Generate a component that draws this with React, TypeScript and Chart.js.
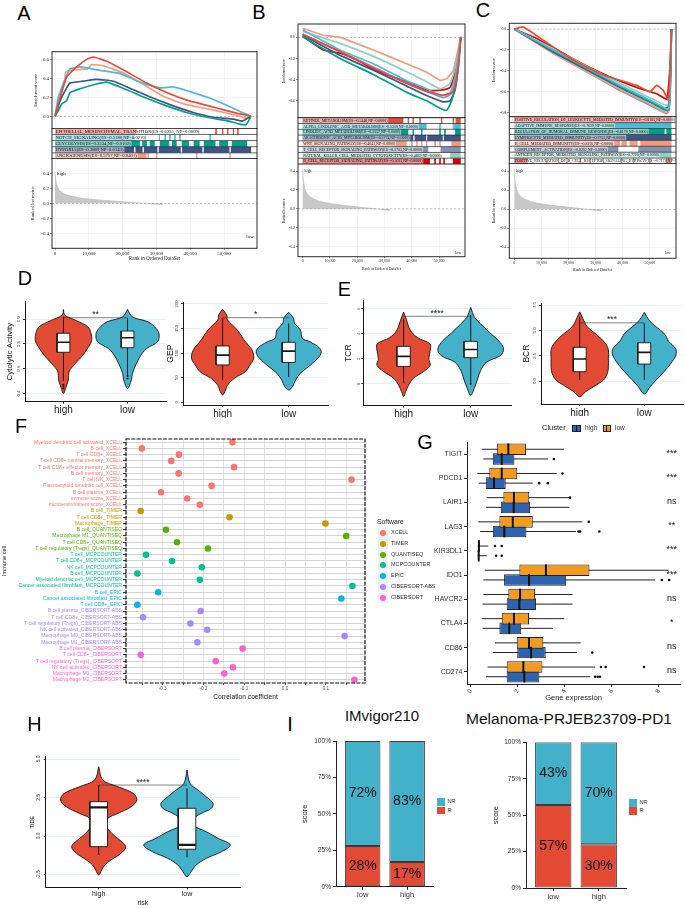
import React, { useEffect, useRef } from "react";
import { Chart, registerables } from "chart.js";

Chart.register(...registerables);

const SANS = "'Liberation Sans', Arial, Helvetica, sans-serif";
const SERIF = "'Liberation Serif', 'Times New Roman', serif";
Chart.defaults.font.family = SANS;
Chart.defaults.color = "#333";

type Pt = [number, number];
type M = [number, number, number, number];

const NPG = ["#E64B35", "#4DBBD5", "#00A087", "#3C5488", "#F39B7F", "#8491B4", "#91D1C2", "#DC0000"];
const RED = "#E24A33";
const TEAL = "#44B1CB";
const G_ORANGE = "#F39B20";
const G_BLUE = "#2D64AF";

// ---------------- GSEA data ----------------
const GSEA_X_TICKS = [0, 10000, 20000, 30000, 40000, 50000];
const RANK_METRIC: Pt[] = [[0, 0.42], [200, 0.32], [600, 0.24], [1200, 0.18], [2500, 0.13], [4500, 0.1], [7000, 0.075], [10000, 0.058], [14000, 0.042], [18000, 0.028], [22000, 0.015], [26000, 0.003], [29000, -0.008], [32000, -0.018]];

const A_EMT: Pt[] = [[0, 0], [1500, 0.2], [3450, 0.41], [6400, 0.52], [9400, 0.6], [11300, 0.625], [15300, 0.58], [21200, 0.47], [27100, 0.35], [33000, 0.25], [39000, 0.17], [44900, 0.115], [50800, 0.06], [54700, 0.025], [57000, 0.01], [58000, 0]];
const A_NOTCH: Pt[] = [[0, 0], [990, 0.2], [2960, 0.39], [4440, 0.5], [7400, 0.52], [13300, 0.485], [19200, 0.45], [25200, 0.36], [31100, 0.3], [35000, 0.31], [39900, 0.26], [45900, 0.19], [51800, 0.1], [54700, 0.05], [58000, 0]];
const A_GLYC: Pt[] = [[0, 0], [990, 0.06], [1970, 0.13], [3450, 0.165], [4440, 0.25], [7400, 0.29], [12300, 0.34], [15300, 0.36], [21200, 0.28], [27100, 0.19], [33000, 0.11], [38900, 0.04], [44900, -0.01], [50800, -0.045], [54300, -0.08], [56500, -0.09], [58000, 0]];
const A_HYP: Pt[] = [[0, 0], [1480, 0.16], [3450, 0.3], [4440, 0.35], [8380, 0.37], [12300, 0.39], [17300, 0.37], [23200, 0.28], [29100, 0.19], [35000, 0.11], [40900, 0.04], [46900, -0.01], [52800, -0.03], [55500, -0.05], [58000, 0]];
const A_ANG: Pt[] = [[0, 0], [1280, 0.16], [2760, 0.35], [3250, 0.47], [5710, 0.49], [9680, 0.5], [10850, 0.545], [14600, 0.53], [20500, 0.45], [26400, 0.33], [32400, 0.205], [38300, 0.128], [44200, 0.085], [50100, 0.04], [53600, 0.01], [56500, -0.02], [58000, 0]];
const A_ROW_LABELS = ["EPITHELIAL_MESENCHYMAL_TRANSITION(ES=0.6231, NP=0.0099)", "NOTCH_SIGNALING(ES=0.5180,NP=0.0270)", "GLYCOLYSIS(ES=0.3534,NP=0.0102)", "HYPOXIA(ES=0.3889,NP=0.0143)", "ANGIOGENESIS(ES=0.5757,NP=0.0401)"];
const A_ROW_BLOCKS: Pt[][] = [
  [[0, 24100]],
  [[0, 23670]],
  [[0, 25100], [25800, 27200], [28000, 29500], [31000, 33800], [34600, 36000], [37500, 39600], [41000, 42800], [44000, 47500], [48600, 51200], [52300, 56800]],
  [[0, 23400], [23800, 25900], [26300, 30300], [30700, 37200], [37600, 43600], [44000, 51600], [52000, 58000]],
  [[0, 27100]],
];
const A_ROW_HITS: number[][] = [[47650, 49600, 51100, 52800, 54100], [30900, 32600, 34000, 35500, 37000, 45900], [], [], [27600, 30100, 41900, 51800]];

const B_1: Pt[] = [[0, 0.03], [13660, -0.135], [25870, -0.29], [38080, -0.435], [45410, -0.51], [51510, -0.545], [55180, -0.51], [57010, -0.28], [57900, 0]];
const B_2: Pt[] = [[0, 0.07], [13660, -0.12], [25870, -0.25], [38080, -0.41], [45410, -0.485], [50290, -0.55], [53950, -0.53], [55790, -0.375], [57900, 0]];
const B_3: Pt[] = [[0, 0.005], [13660, -0.2], [25870, -0.35], [38080, -0.52], [45410, -0.6], [50290, -0.67], [52730, -0.69], [54560, -0.6], [56150, -0.43], [57900, 0]];
const B_4: Pt[] = [[0, 0.02], [13660, -0.17], [25870, -0.31], [38080, -0.46], [45410, -0.55], [51510, -0.61], [53950, -0.6], [55790, -0.5], [57010, -0.28], [57900, 0]];
const B_5: Pt[] = [[0, 0.085], [7570, 0.02], [13660, 0], [25870, -0.12], [38080, -0.25], [45410, -0.33], [50290, -0.405], [52730, -0.39], [55180, -0.31], [57620, -0.025], [57900, 0.01]];
const B_6: Pt[] = [[0, 0.03], [13660, -0.135], [25870, -0.28], [38080, -0.43], [45410, -0.51], [51510, -0.57], [54560, -0.53], [56400, -0.34], [57900, 0]];
const B_7: Pt[] = [[0, 0.055], [13660, -0.057], [25870, -0.18], [38080, -0.325], [45410, -0.42], [50290, -0.485], [53950, -0.437], [56400, -0.215], [57900, 0]];
const B_8: Pt[] = [[0, 0.012], [7570, -0.12], [13660, -0.15], [19770, -0.215], [28310, -0.33], [38080, -0.42], [45410, -0.5], [50290, -0.5], [53950, -0.475], [56400, -0.28], [57900, 0]];
const B_ROW_LABELS = ["RETINOL_METABOLISM(ES=-0.5448,NP=0.0000)", "ALPHA_LINOLENIC_ACID_METABOLISM(ES=-0.5318,NP=0.0000)", "LINOLEIC_ACID_METABOLISM(ES=-0.5557,NP=0.0000)", "ARACHIDONIC_ACID_METABOLISM(ES=-0.5774,NP=0.0000)", "WNT_SIGNALING_PATHWAY(ES=-0.4041,NP=0.0000)", "T_CELL_RECEPTOR_SIGNALING_PATHWAY(ES=-0.5705,NP=0.0000)", "NATURAL_KILLER_CELL_MEDIATED_CYTOTOXICITY(ES=-0.4839,NP=0.0000)", "B_CELL_RECEPTOR_SIGNALING_PATHWAY(ES=-0.5021,NP=0.0000)"];
const B_ROW_BLOCKS: Pt[][] = [
  [[0, 36870], [56000, 57900]],
  [[0, 45400], [55500, 57900]],
  [[0, 38700], [55800, 57900]],
  [[0, 40500], [41000, 45200], [45600, 51300], [51700, 57900]],
  [[0, 38100], [54500, 57900]],
  [[0, 46000], [50500, 57900]],
  [[0, 50300], [54000, 57900]],
  [[0, 46600], [55000, 57900]],
];
const B_ROW_HITS: number[][] = [[38700, 40500, 43000, 50900, 55200], [50300, 55200, 57000], [40500, 43600, 50300, 52100], [], [40000, 41800, 43600, 45400, 48500, 50300], [], [], [48500, 50300, 51800]];

const C_1: Pt[] = [[0, 0], [3330, 0.02], [20560, -0.28], [32870, -0.44], [45170, -0.54], [50090, -0.6], [52550, -0.54], [55010, -0.59], [56860, -0.68], [58000, 0]];
const C_2: Pt[] = [[0, 0], [14400, -0.2], [26720, -0.37], [39020, -0.54], [50090, -0.68], [55010, -0.75], [56860, -0.77], [57470, -0.6], [58000, 0]];
const C_3: Pt[] = [[0, 0], [14400, -0.21], [26720, -0.38], [39020, -0.55], [50090, -0.7], [55010, -0.77], [56860, -0.78], [57470, -0.62], [58000, 0]];
const C_4: Pt[] = [[0, 0], [14400, -0.22], [26720, -0.39], [39020, -0.56], [50090, -0.7], [55010, -0.76], [56860, -0.75], [57700, -0.4], [58000, 0]];
const C_5: Pt[] = [[0, 0], [14400, -0.235], [26720, -0.41], [39020, -0.58], [50090, -0.72], [55010, -0.79], [56860, -0.8], [57470, -0.65], [58000, 0]];
const C_6: Pt[] = [[0, 0], [14400, -0.23], [26720, -0.41], [39020, -0.59], [50090, -0.73], [54400, -0.79], [56240, -0.81], [57470, -0.68], [58000, 0]];
const C_7: Pt[] = [[0, 0], [14400, -0.19], [26720, -0.36], [39020, -0.52], [50090, -0.66], [55010, -0.72], [56860, -0.73], [57470, -0.55], [58000, 0]];
const C_8: Pt[] = [[0, 0], [8250, -0.09], [20560, -0.27], [32870, -0.43], [45170, -0.56], [52550, -0.62], [56240, -0.67], [57470, -0.36], [58000, 0]];
const C_ROW_LABELS = ["POSITIVE_REGULATION_OF_LEUKOCYTE_MEDIATED_IMMUNITY(ES=-0.8105,NP=0.0000)", "ADAPTIVE_IMMUNE_RESPONSE(ES=-0.7629,NP=0.0000)", "REGULATION_OF_HUMORAL_IMMUNE_RESPONSE(ES=-0.8170,NP=0.0000)", "LYMPHOCYTE_MEDIATED_IMMUNITY(ES=-0.7753,NP=0.0000)", "B_CELL_MEDIATED_IMMUNITY(ES=-0.8195,NP=0.0000)", "COMPLEMENT_ACTIVATION(ES=-0.8202,NP=0.0000)", "ANTIGEN_RECEPTOR_MEDIATED_SIGNALING_PATHWAY(ES=-0.7720,NP=0.0000)", "POSITIVE_REGULATION_OF_B_CELL_RECEPTOR_SIGNALING_PATHWAY(ES=-0.7178,NP=0.0000)"];
const C_ROW_BLOCKS: Pt[][] = [
  [[0, 58000]],
  [[0, 58000]],
  [[0, 55500], [56100, 58000]],
  [[0, 58000]],
  [[0, 39000], [39500, 41500], [42500, 45500], [46500, 58000]],
  [[0, 38400], [45800, 58000]],
  [[0, 58000]],
  [[0, 5000], [56000, 58000]],
];
const C_ROW_HITS: number[][] = [[], [], [], [], [], [], [], [12000, 16300, 19400, 24300, 28000, 32900, 39600, 44000, 50000]];

// ---------------- violin data (D, E, H) ----------------
const CYT_LV_HIGH = [1.08, 1.035, 0.99, 0.94, 0.887, 0.83, 0.78, 0.71, 0.64, 0.58, 0.51, 0.46, 0.4];
const CYT_D_HIGH = [0, 1.3, 13, 25, 28.3, 29, 26, 20, 12, 6, 5, 3, 0];
const CYT_LV_LOW = [1.08, 1.02, 0.98, 0.94, 0.887, 0.82, 0.765, 0.725, 0.64, 0.56, 0.51, 0.44];
const CYT_D_LOW = [0, 5, 21, 27.7, 32.3, 31, 20, 15, 9, 5, 4, 0];
const CYT_BOX_HIGH = [0.5, 0.733, 0.814, 0.887, 1.02];
const CYT_BOX_LOW = [0.535, 0.77, 0.851, 0.905, 1.01];
const CYT_OUT_HIGH = [0.47, 0.455, 0.44];
const CYT_OUT_LOW = [0.54, 0.52];

const GEP_LV_HIGH = [189, 178, 167.5, 147, 127, 106, 89.4, 76, 62, 49, 35, 25, 15];
const GEP_D_HIGH = [0, 4, 5, 15, 21.7, 30, 31.7, 28, 23, 12, 5, 3, 0];
const GEP_LV_LOW = [183, 171, 160.6, 147, 130, 123, 110, 99.6, 86, 72, 59, 45, 32, 25];
const GEP_D_LOW = [0, 5, 6, 12, 14, 21.7, 31.7, 33, 28, 20, 12, 7, 4, 0];
const GEP_BOX_HIGH = [45, 76, 96, 114.5, 171];
const GEP_BOX_LOW = [51, 81, 104, 122, 160.6];

const TCR_LV_HIGH = [5.74, 5.1, 4.3, 3.7, 3.2, 2.7, 2.0, 1.5, 0.98, 0.45, -0.1, -0.62, -1.0];
const TCR_D_HIGH = [0, 3, 6.7, 14, 26.7, 27, 25.5, 27, 20, 10, 5, 2, 0];
const TCR_LV_LOW = [6.1, 5.3, 4.8, 4.1, 3.47, 2.8, 2.27, 1.74, 1.08, 0.4, -0.26, -0.9];
const TCR_D_LOW = [0, 4, 10, 19, 28, 33.3, 30, 16, 10, 7, 4, 0];
const TCR_BOX_HIGH = [0.05, 1.4, 2.2, 3.0, 5.2];
const TCR_BOX_LOW = [0.05, 2.1, 2.75, 3.4, 5.5];

const BCR_LV_HIGH = [6.84, 6.2, 5.36, 4.54, 3.72, 3.06, 2.24, 1.41, 0.76, 0.1, -0.56, -1.05, -1.55];
const BCR_D_HIGH = [0, 3, 7.7, 17.7, 26, 29, 29, 29, 28, 24, 14, 6, 0];
const BCR_LV_LOW = [6.78, 6.0, 5.36, 4.7, 3.88, 3.2, 2.57, 1.75, 0.92, 0.1, -0.56, -1.28];
const BCR_D_LOW = [0, 5, 12, 20, 25, 31.7, 32, 27, 20, 12, 6, 0];
const BCR_BOX_HIGH = [0.1, 0.92, 2.17, 3.33, 6.35];
const BCR_BOX_LOW = [0.1, 1.68, 2.83, 3.78, 5.7];

const TIDE_LV_HIGH = [4.5, 3.64, 3.2, 2.77, 2.34, 1.9, 1.47, 1.15, 0.71, 0.17, -0.26, -0.69, -1.12, -1.56, -1.88, -2.2, -2.53];
const TIDE_D_HIGH = [0, 4, 19, 34, 37.7, 32, 19, 9, 7, 13, 20.7, 26.7, 22, 12, 6, 3, 0];
const TIDE_LV_LOW = [4.29, 3.42, 2.99, 2.55, 2.12, 1.8, 1.47, 1.15, 0.71, 0.28, -0.15, -0.58, -1.02, -1.45, -1.88, -2.32, -2.64];
const TIDE_D_LOW = [0, 3, 10.7, 19, 25.7, 24, 14, 7, 6, 19, 30.7, 42.7, 34, 19, 9, 4, 0];
const TIDE_BOX_HIGH = [-1.23, -0.69, 1.86, 2.23, 3.31];
const TIDE_BOX_LOW = [-1.38, -0.86, -0.58, 1.8, 3.1];

const RISK_GROUPS = ["high", "low"];

// ---------------- F data ----------------
const F_LABELS = [
  "Myeloid dendritic cell activated_XCELL", "B cell_XCELL", "T cell CD8+_XCELL", "T cell CD8+ central memory_XCELL", "T cell CD8+ effector memory_XCELL", "B cell memory_XCELL", "T cell NK_XCELL", "Plasmacytoid dendritic cell_XCELL", "B cell plasma_XCELL", "immune score_XCELL", "microenvironment score_XCELL",
  "B cell_TIMER", "T cell CD8+_TIMER", "Macrophage_TIMER",
  "B cell_QUANTISEQ", "Macrophage M1_QUANTISEQ", "T cell CD8+_QUANTISEQ", "T cell regulatory (Tregs)_QUANTISEQ",
  "T cell_MCPCOUNTER", "T cell CD8+_MCPCOUNTER", "NK cell_MCPCOUNTER", "B cell_MCPCOUNTER", "Myeloid dendritic cell_MCPCOUNTER", "Cancer associated fibroblast_MCPCOUNTER",
  "B cell_EPIC", "Cancer associated fibroblast_EPIC", "T cell CD8+_EPIC",
  "B cell plasma_CIBERSORT-ABS", "T cell CD8+_CIBERSORT-ABS", "T cell regulatory (Tregs)_CIBERSORT-ABS", "NK cell activated_CIBERSORT-ABS", "Macrophage M0_CIBERSORT-ABS", "Macrophage M1_CIBERSORT-ABS",
  "B cell plasma_CIBERSORT", "T cell CD8+_CIBERSORT", "T cell regulatory (Tregs)_CIBERSORT", "NK cell activated_CIBERSORT", "Macrophage M1_CIBERSORT", "Macrophage M2_CIBERSORT",
];
const F_VALUES = [-0.129, -0.351, -0.26, -0.279, -0.125, -0.261, 0.163, -0.18, -0.304, -0.24, -0.209, -0.354, -0.136, 0.099, -0.292, 0.15, -0.265, -0.189, -0.341, -0.277, -0.204, -0.362, -0.209, 0.165, -0.311, 0.138, -0.362, -0.207, -0.348, -0.232, -0.191, 0.146, -0.215, -0.104, -0.354, -0.17, -0.128, -0.149, 0.17];
const F_SOFTWARE = ["XCELL", "TIMER", "QUANTISEQ", "MCPCOUNTER", "EPIC", "CIBERSORT-ABS", "CIBERSORT"];
const F_SOFT_COLORS = ["#F8766D", "#C49A00", "#53B400", "#00C094", "#00B6EB", "#A58AFF", "#FB61D7"];
const F_X_TICKS = [-0.35, -0.3, -0.25, -0.2, -0.15, -0.1, -0.05, 0, 0.05, 0.1, 0.15];

// ---------------- G data ----------------
const G_GENES = ["TIGIT", "PDCD1", "LAIR1", "LAG3", "KIR3DL1", "IDO1", "HAVCR2", "CTLA4", "CD86", "CD274"];
const G_LOW = [[0.47, 1.11, 1.6, 2.35, 3.97], [0.28, 0.79, 1.32, 1.98, 3.66], [0.68, 1.39, 1.84, 2.49, 4.2], [0.32, 1.22, 1.79, 2.64, 4.75], [0.3, 0.33, 0.35, 0.37, 0.75], [0.6, 2.07, 3.2, 5.05, 8.41], [0.54, 1.6, 2.1, 2.74, 4.33], [0.47, 1.32, 1.84, 2.48, 3.98], [1.03, 1.96, 2.48, 3.09, 4.68], [0.72, 1.53, 2.24, 3.05, 5.29]];
const G_HIGH = [[0.54, 0.94, 1.32, 1.86, 3.28], [0.34, 0.64, 0.99, 1.49, 2.64], [0.65, 1.28, 1.83, 2.52, 4.2], [0.4, 0.94, 1.43, 2.37, 4.48], [0.3, 0.32, 0.34, 0.36, 0.68], [0.54, 1.42, 2.48, 4.06, 7.84], [0.5, 1.53, 2.07, 2.78, 4.33], [0.51, 1.22, 1.64, 2.15, 3.49], [0.94, 1.98, 2.57, 3.19, 4.51], [0.65, 1.53, 2.28, 2.92, 5.08]];
const G_LOW_OUT = [[], [3.9], [4.22], [5.02], [1.03, 1.32], [], [], [], [], [5.54, 5.74, 7.37]];
const G_HIGH_OUT = [[3.54], [2.91, 3.28], [], [4.58, 4.65, 5.47], [1.08, 1.32], [8.13, 8.44], [], [], [5.17], [5.29, 5.4, 5.5]];
const G_SIG = ["***", "***", "ns", "**", "***", "***", "ns", "*", "ns", "ns"];
const G_X_TICKS = [0, 2, 4, 6, 8];

// ---------------- I data ----------------
const I1_CATS = ["low", "high"];
const I1_R = [28, 17];
const I1_NR = [72, 83];
const I2_CATS = ["low", "high"];
const I2_R = [57, 30];
const I2_NR = [43, 70];
const PCT_TICKS = [0, 25, 50, 75, 100];

// ---------------- helpers ----------------
function fitW(w: number) {
  return (s: any) => { s.width = w; s.paddingTop = 0; s.paddingBottom = 0; s.paddingLeft = 0; s.paddingRight = 0; };
}
function fitH(h: number) {
  return (s: any) => { s.height = h; s.paddingTop = 0; s.paddingBottom = 0; s.paddingLeft = 0; s.paddingRight = 0; };
}
function setTicks(vals: number[]) {
  return (s: any) => { s.ticks = vals.map((v) => ({ value: v })); };
}
function framePlugin(id: string, color = "#222", lw = 1, dash: number[] = []) {
  return {
    id,
    afterDraw(chart: any) {
      const { ctx, chartArea: a } = chart;
      ctx.save();
      ctx.strokeStyle = color;
      ctx.lineWidth = lw;
      ctx.setLineDash(dash);
      ctx.strokeRect(a.left, a.top, a.right - a.left, a.bottom - a.top);
      ctx.restore();
    },
  };
}
function textPlugin(id: string, items: any[]) {
  return {
    id,
    afterDatasetsDraw(chart: any) {
      const ctx = chart.ctx;
      ctx.save();
      for (const it of items) {
        const xs = chart.scales.x, ys = chart.scales.y;
        const px = xs.getPixelForValue(it.x) + (it.dx || 0);
        const py = ys.getPixelForValue(it.y) + (it.dy || 0);
        ctx.font = `${it.size}px ${it.family || SANS}`;
        ctx.textAlign = it.align || "center";
        ctx.textBaseline = it.base || "middle";
        ctx.fillStyle = it.color || "#111";
        ctx.fillText(it.text, px, py);
      }
      ctx.restore();
    },
  };
}
function baseOpts(m: M, scales: any) {
  return {
    animation: false,
    responsive: false,
    events: [],
    layout: { padding: { left: 0, top: m[1], right: m[2], bottom: 0 } },
    plugins: { legend: { display: false }, tooltip: { enabled: false } },
    scales,
  };
}

function ChartBox({ L, T, R, B, m, build }: { L: number; T: number; R: number; B: number; m: M; build: (mm: M) => any }) {
  const ref = useRef<HTMLCanvasElement>(null);
  const left = Math.floor(L - m[0]);
  const top = Math.floor(T - m[1]);
  const right = Math.ceil(R + m[2]);
  const bottom = Math.ceil(B + m[3]);
  const mm: M = [L - left, T - top, right - R, bottom - B];
  const w = right - left;
  const h = bottom - top;
  useEffect(() => {
    const chart = new Chart(ref.current as HTMLCanvasElement, build(mm));
    return () => chart.destroy();
  }, []);
  return <canvas ref={ref} width={w} height={h} style={{ position: "absolute", left, top, width: w, height: h, display: "block" }} />;
}

// ---------------- GSEA ----------------
function gseaTopCfg(g: any, m: M) {
  const ds: any[] = g.curves.map((c: any) => ({
    data: c[0].map((p: Pt) => ({ x: p[0], y: p[1] })),
    showLine: true, pointRadius: 0, borderColor: c[1], borderWidth: g.lw, tension: 0.15, fill: false,
  }));
  ds.push({ data: [{ x: g.xMin, y: 0 }, { x: g.xMax, y: 0 }], showLine: true, pointRadius: 0, borderColor: "#9b9b9b", borderWidth: 0.6, borderDash: [2, 2], order: 1 });
  return {
    type: "scatter",
    data: { datasets: ds },
    options: baseOpts(m, {
      x: { type: "linear", min: g.xMin, max: g.xMax, afterBuildTicks: setTicks(GSEA_X_TICKS), afterFit: fitH(0), ticks: { display: false }, grid: { color: "#ebebeb", lineWidth: 0.5, drawTicks: false }, border: { display: false } },
      y: {
        type: "linear", min: g.esMin, max: g.esMax, afterBuildTicks: setTicks(g.esTicks), afterFit: fitW(m[0]),
        ticks: { callback: (v: any) => Number(v).toFixed(1), font: { family: SERIF, size: g.ts }, color: "#222", padding: 1 },
        grid: { color: "#ebebeb", lineWidth: 0.5, tickLength: 2, tickColor: "#222" }, border: { display: false },
        title: { display: true, text: "Enrichment score", font: { family: SERIF, size: g.tts }, color: "#222", padding: 0 },
      },
    }),
    plugins: [framePlugin("gf1", "#2a2a2a", 1)],
  };
}
function rowLabelPlugin(labels: string[], size: number) {
  return {
    id: "rowlab",
    afterDatasetsDraw(chart: any) {
      const { ctx, chartArea: a, scales } = chart;
      ctx.save();
      ctx.beginPath();
      ctx.rect(a.left, a.top, a.right - a.left, a.bottom - a.top);
      ctx.clip();
      ctx.font = `${size}px ${SERIF}`;
      ctx.textBaseline = "middle";
      ctx.textAlign = "left";
      const x0 = scales.x.getPixelForValue(0);
      labels.forEach((t, i) => {
        const y0 = scales.y.getPixelForValue(i), y1 = scales.y.getPixelForValue(i + 1);
        const w = ctx.measureText(t).width;
        ctx.fillStyle = "rgba(255,255,255,0.55)";
        ctx.fillRect(x0, Math.min(y0, y1), w + 1.5, Math.abs(y1 - y0));
        ctx.fillStyle = "#111";
        ctx.fillText(t, x0 + 0.6, (y0 + y1) / 2 + 0.3);
      });
      ctx.strokeStyle = "#222";
      ctx.lineWidth = 0.7;
      for (let i = 1; i < labels.length; i++) {
        const y = scales.y.getPixelForValue(i);
        ctx.beginPath();
        ctx.moveTo(a.left, y);
        ctx.lineTo(a.right, y);
        ctx.stroke();
      }
      ctx.restore();
    },
  };
}
function gseaRowsCfg(g: any, m: M) {
  const n = g.rowLabels.length;
  const rowPx = (g.B2 - g.B1) / n;
  const ds: any[] = [];
  for (let i = 0; i < n; i++) {
    const col = NPG[i];
    const blk: any[] = [];
    g.rowBlocks[i].forEach((b: Pt) => { blk.push({ x: b[0], y: i + 0.5 }, { x: b[1], y: i + 0.5 }, { x: b[1], y: null }); });
    ds.push({ data: blk, showLine: true, pointRadius: 0, borderColor: col, borderWidth: rowPx, borderCapStyle: "butt", fill: false });
    const hit: any[] = [];
    g.rowHits[i].forEach((hx: number) => { hit.push({ x: hx, y: i }, { x: hx, y: i + 1 }, { x: hx, y: null }); });
    ds.push({ data: hit, showLine: true, pointRadius: 0, borderColor: col, borderWidth: 0.9, fill: false });
  }
  return {
    type: "scatter",
    data: { datasets: ds },
    options: baseOpts(m, {
      x: { type: "linear", min: g.xMin, max: g.xMax, afterFit: fitH(0), ticks: { display: false }, grid: { display: false }, border: { display: false } },
      y: { type: "linear", min: 0, max: n, reverse: true, afterFit: fitW(m[0]), ticks: { display: false }, grid: { display: false }, border: { display: false } },
    }),
    plugins: [rowLabelPlugin(g.rowLabels, g.rowFont), framePlugin("gf2", "#2a2a2a", 1)],
  };
}
function gseaRankCfg(g: any, m: M) {
  const ds: any[] = [
    { data: RANK_METRIC.map((p) => ({ x: p[0], y: p[1] })), showLine: true, pointRadius: 0, fill: "origin", backgroundColor: "#c8c8c8", borderColor: "#b8b8b8", borderWidth: 0.6, tension: 0.3 },
    { data: [{ x: g.xMin, y: 0 }, { x: g.xMax, y: 0 }], showLine: true, pointRadius: 0, borderColor: "#9b9b9b", borderWidth: 0.6, borderDash: [2, 2], order: -1 },
  ];
  return {
    type: "scatter",
    data: { datasets: ds },
    options: baseOpts(m, {
      x: {
        type: "linear", min: g.xMin, max: g.xMax, afterBuildTicks: setTicks(GSEA_X_TICKS), afterFit: fitH(m[3]),
        ticks: { callback: (v: any) => Number(v).toLocaleString("en-US"), font: { family: SERIF, size: g.ts }, color: "#222", padding: 0.5, maxRotation: 0, autoSkip: false },
        grid: { color: "#ebebeb", lineWidth: 0.5, tickLength: 1.5, tickColor: "#222" }, border: { display: false },
        title: { display: true, text: "Rank in Ordered DataSet", font: { family: SERIF, size: g.xts }, color: "#222", padding: 0 },
      },
      y: {
        type: "linear", min: g.rlMin, max: g.rlMax, afterBuildTicks: setTicks([-0.4, -0.2, 0, 0.2, 0.4]), afterFit: fitW(m[0]),
        ticks: { callback: (v: any) => Number(v).toFixed(1), font: { family: SERIF, size: g.ts }, color: "#222", padding: 1 },
        grid: { color: "#ebebeb", lineWidth: 0.5, tickLength: 2, tickColor: "#222" }, border: { display: false },
        title: { display: true, text: "Ranked list metric", font: { family: SERIF, size: g.tts }, color: "#222", padding: 0 },
      },
    }),
    plugins: [
      textPlugin("hl", [
        { x: g.high[0], y: g.high[1], text: "high", size: g.ts, family: SERIF, align: "left" },
        { x: g.low[0], y: g.low[1], text: "low", size: g.ts, family: SERIF, align: "center" },
      ]),
      framePlugin("gf3", "#2a2a2a", 1),
    ],
  };
}
function Gsea({ g }: { g: any }) {
  return (
    <>
      <ChartBox L={g.L} T={g.T1} R={g.R} B={g.B1} m={[g.ml1, 3, 1, 0]} build={(m) => gseaTopCfg(g, m)} />
      <ChartBox L={g.L} T={g.B1} R={g.R} B={g.B2} m={[g.ml1, 0, 1, 0]} build={(m) => gseaRowsCfg(g, m)} />
      <ChartBox L={g.L} T={g.B2} R={g.R} B={g.B3} m={[g.ml3, 0, 1, g.mb3]} build={(m) => gseaRankCfg(g, m)} />
    </>
  );
}

const GA = {
  L: 52, R: 257, T1: 51.7, B1: 128.3, B2: 158.3, B3: 248.3, ml1: 18.7, ml3: 22, mb3: 13,
  xMin: -888, xMax: 59760, esMin: -0.134, esMax: 0.681, esTicks: [0, 0.2, 0.4, 0.6], rlMin: -0.6, rlMax: 0.6,
  ts: 4.9, tts: 4.7, xts: 5.1, rowFont: 4.7, lw: 1.7,
  curves: [[A_EMT, NPG[0]], [A_NOTCH, NPG[1]], [A_GLYC, NPG[2]], [A_HYP, NPG[3]], [A_ANG, NPG[4]]],
  rowLabels: A_ROW_LABELS, rowBlocks: A_ROW_BLOCKS, rowHits: A_ROW_HITS,
  high: [600, 0.395], low: [57700, -0.45],
};
const GB = {
  L: 298, R: 465, T1: 24, B1: 117.7, B2: 164, B3: 256.7, ml1: 15.7, ml3: 15.7, mb3: 14.3,
  xMin: -1720, xMax: 59450, esMin: -0.762, esMax: 0.126, esTicks: [-0.6, -0.4, -0.2, 0], rlMin: -0.505, rlMax: 0.474,
  ts: 3.9, tts: 3.4, xts: 3.9, rowFont: 3.9, lw: 1.7,
  curves: [[B_1, NPG[0]], [B_2, NPG[1]], [B_3, NPG[2]], [B_4, NPG[3]], [B_5, NPG[4]], [B_6, NPG[5]], [B_7, NPG[6]], [B_8, NPG[7]]],
  rowLabels: B_ROW_LABELS, rowBlocks: B_ROW_BLOCKS, rowHits: B_ROW_HITS,
  high: [700, 0.4], low: [56900, -0.463],
};
const GC = {
  L: 509.3, R: 676, T1: 23.3, B1: 116.7, B2: 163.3, B3: 258.3, ml1: 17, ml3: 17, mb3: 13.4,
  xMin: -1845, xMax: 59670, esMin: -0.843, esMax: 0.055, esTicks: [-0.8, -0.6, -0.4, -0.2, 0], rlMin: -0.516, rlMax: 0.484,
  ts: 3.9, tts: 3.4, xts: 3.9, rowFont: 3.9, lw: 1.7,
  curves: [[C_1, NPG[0]], [C_2, NPG[1]], [C_3, NPG[2]], [C_4, NPG[3]], [C_5, NPG[4]], [C_6, NPG[5]], [C_7, NPG[6]], [C_8, NPG[7]]],
  rowLabels: C_ROW_LABELS, rowBlocks: C_ROW_BLOCKS, rowHits: C_ROW_HITS,
  high: [700, 0.4], low: [56700, -0.46],
};

// ---------------- violins ----------------
function violinCfg(v: any, m: M) {
  const VW = 0.49, BW = 0.1;
  const ink = "#151515";
  const maxD = Math.max(...v.d[0], ...v.d[1]);
  const fills = [RED, TEAL];
  const ln = (data: any[], o: any) => Object.assign({ data, showLine: true, pointRadius: 0, tension: 0, borderColor: ink, borderWidth: 1, fill: false }, o);
  const ds: any[] = [];
  for (let k = 0; k < 2; k++) {
    const c = k + 1, lv = v.lv[k], d = v.d[k];
    const rs = lv.map((y: number, i: number) => ({ x: c + (d[i] / maxD) * VW, y }));
    const ls = lv.map((y: number, i: number) => ({ x: c - (d[i] / maxD) * VW, y })).reverse().slice(1);
    ds.push(ln(rs.concat(ls), { fill: "shape", backgroundColor: fills[k], borderWidth: 0.9, tension: 0.35, order: 6 }));
  }
  const wh: any[] = [];
  v.box.forEach((b: number[], k: number) => { wh.push({ x: k + 1, y: b[0] }, { x: k + 1, y: b[4] }, { x: k + 1, y: null }); });
  ds.push(ln(wh, { order: 5 }));
  v.box.forEach((b: number[], k: number) => {
    const c = k + 1;
    ds.push(ln([{ x: c - BW, y: b[1] }, { x: c + BW, y: b[1] }, { x: c + BW, y: b[3] }, { x: c - BW, y: b[3] }, { x: c - BW, y: b[1] }], { fill: "shape", backgroundColor: "#ffffff", borderWidth: 0.9, order: 4 }));
  });
  const md: any[] = [];
  v.box.forEach((b: number[], k: number) => { md.push({ x: k + 1 - BW, y: b[2] }, { x: k + 1 + BW, y: b[2] }, { x: k + 1, y: null }); });
  ds.push(ln(md, { borderWidth: v.medW, borderCapStyle: "butt", order: 3 }));
  const outs: any[] = [];
  v.out.forEach((o: number[], k: number) => o.forEach((y) => outs.push({ x: k + 1, y })));
  ds.push({ data: outs, showLine: false, pointRadius: 1, pointBackgroundColor: ink, pointBorderWidth: 0, order: 2 });
  ds.push(ln([{ x: 1, y: v.br }, { x: 2, y: v.br }], { borderColor: "#333", borderWidth: 0.6, order: 1 }));
  return {
    type: "scatter",
    data: { datasets: ds },
    options: baseOpts(m, {
      x: {
        type: "linear", min: 0.4, max: 2.6, afterBuildTicks: setTicks([1, 2]), afterFit: fitH(m[3]),
        ticks: { callback: (val: any) => RISK_GROUPS[Math.round(Number(val)) - 1], font: { size: v.xs }, color: "#222", padding: 1, maxRotation: 0, autoSkip: false },
        grid: { drawOnChartArea: false, tickLength: 2, tickColor: ink },
        border: { display: true, color: ink, width: 1 },
        title: v.xTitle ? { display: true, text: v.xTitle, font: { size: v.xts }, color: "#222", padding: 0 } : { display: false },
      },
      y: {
        type: "linear", min: v.yMin, max: v.yMax, afterBuildTicks: setTicks(v.ticks), afterFit: fitW(m[0]),
        ticks: { callback: (val: any) => Number(val).toFixed(v.dec), minRotation: 90, maxRotation: 90, crossAlign: "center", font: { size: v.ts }, color: "#444", padding: 1 },
        grid: { color: "#e0eded", lineWidth: 0.8, tickLength: 2, tickColor: ink },
        border: { display: true, color: ink, width: 1 },
        title: { display: true, text: v.yTitle, font: { size: v.ys }, color: "#111", padding: 0 },
      },
    }),
    plugins: [textPlugin("sig", [{ x: 1.5, y: v.br, text: v.sig, size: 8.5, base: "alphabetic", dy: -0.5, color: "#222" }])],
  };
}

const V_CYT = { lv: [CYT_LV_HIGH, CYT_LV_LOW], d: [CYT_D_HIGH, CYT_D_LOW], box: [CYT_BOX_HIGH, CYT_BOX_LOW], out: [CYT_OUT_HIGH, CYT_OUT_LOW], yMin: 0.3328, yMax: 1.1425, ticks: [0.4, 0.6, 0.8, 1.0], dec: 1, yTitle: "Cytolytic Activity", ys: 8, ts: 4.3, xs: 10, br: 1.013, sig: "**", medW: 1.6 };
const V_GEP = { lv: [GEP_LV_HIGH, GEP_LV_LOW], d: [GEP_D_HIGH, GEP_D_LOW], box: [GEP_BOX_HIGH, GEP_BOX_LOW], out: [[], []], yMin: -6.1, yMax: 203.9, ticks: [0, 50, 100, 150, 200], dec: 0, yTitle: "GEP", ys: 8.5, ts: 4.3, xs: 10, br: 172, sig: "*", medW: 1.6 };
const V_TCR = { lv: [TCR_LV_HIGH, TCR_LV_LOW], d: [TCR_D_HIGH, TCR_D_LOW], box: [TCR_BOX_HIGH, TCR_BOX_LOW], out: [[], [0]], yMin: -1.73, yMax: 6.64, ticks: [0, 2, 4, 6], dec: 0, yTitle: "TCR", ys: 8.5, ts: 4.3, xs: 10, br: 5.4, sig: "****", medW: 1.6 };
const V_BCR = { lv: [BCR_LV_HIGH, BCR_LV_LOW], d: [BCR_D_HIGH, BCR_D_LOW], box: [BCR_BOX_HIGH, BCR_BOX_LOW], out: [[], []], yMin: -2.27, yMax: 7.68, ticks: [0, 2.5, 5, 7.5], dec: 1, yTitle: "BCR", ys: 8.5, ts: 4.3, xs: 10, br: 5.75, sig: "***", medW: 1.6 };
const V_TIDE = { lv: [TIDE_LV_HIGH, TIDE_LV_LOW], d: [TIDE_D_HIGH, TIDE_D_LOW], box: [TIDE_BOX_HIGH, TIDE_BOX_LOW], out: [[], []], yMin: -3.33, yMax: 5.15, ticks: [-2.5, 0, 2.5, 5], dec: 1, yTitle: "TIDE", ys: 5.5, ts: 4.8, xs: 7, xTitle: "risk", xts: 7, br: 3.31, sig: "****", medW: 2.2 };

// ---------------- F ----------------
function fColor(i: number) {
  const lab = F_LABELS[i];
  return F_SOFT_COLORS[F_SOFTWARE.indexOf(lab.slice(lab.lastIndexOf("_") + 1))];
}
function fCfg(m: M) {
  return {
    type: "scatter",
    data: {
      datasets: [{
        data: F_VALUES.map((v, i) => ({ x: v, y: F_LABELS[i] })),
        pointRadius: 3.3, pointBackgroundColor: F_LABELS.map((_, i) => fColor(i)), pointBorderWidth: 0,
      }],
    },
    options: baseOpts(m, {
      x: {
        type: "linear", min: -0.39, max: 0.196, afterBuildTicks: setTicks(F_X_TICKS), afterFit: fitH(m[3]),
        ticks: { callback: (v: any) => (Math.abs(Math.round(v * 10) - v * 10) < 1e-6 ? Number(v).toFixed(1) : ""), font: { size: 4.6 }, color: "#555", padding: 1, maxRotation: 0, autoSkip: false },
        grid: { color: "#dcdcdc", lineWidth: 0.8, tickLength: 2, tickColor: "#333" }, border: { display: false },
        title: { display: true, text: "Correlation coefficient", font: { size: 6.7 }, color: "#222", padding: 0 },
      },
      y: {
        type: "category", labels: F_LABELS, offset: true, afterFit: fitW(m[0]),
        ticks: { autoSkip: false, font: { size: 5.1 }, color: (ctx: any) => fColor(ctx.index), padding: 1 },
        grid: { color: "#d3d3d3", lineWidth: 1.1, tickLength: 3, tickColor: "#333", offset: false }, border: { display: false },
        title: { display: true, text: "Immune cell", font: { size: 5.6 }, color: "#111", padding: 0 },
      },
    }),
    plugins: [framePlugin("ff", "#111", 1.2, [4, 1.3])],
  };
}

// ---------------- G ----------------
function gBoxPlugin() {
  const stats = [G_LOW, G_HIGH];
  const outs = [G_LOW_OUT, G_HIGH_OUT];
  return {
    id: "gbox",
    beforeDatasetsDraw(chart: any) {
      const { ctx, scales } = chart;
      ctx.save();
      ctx.strokeStyle = "#222";
      ctx.lineWidth = 1;
      stats.forEach((st, di) => {
        const meta = chart.getDatasetMeta(di);
        st.forEach((s, i) => {
          const el: any = meta.data[i];
          ctx.beginPath();
          ctx.moveTo(scales.x.getPixelForValue(s[0]), el.y);
          ctx.lineTo(scales.x.getPixelForValue(s[4]), el.y);
          ctx.stroke();
        });
      });
      ctx.restore();
    },
    afterDatasetsDraw(chart: any) {
      const { ctx, scales } = chart;
      ctx.save();
      ctx.strokeStyle = "#111";
      ctx.fillStyle = "#111";
      stats.forEach((st, di) => {
        const meta = chart.getDatasetMeta(di);
        st.forEach((s, i) => {
          const el: any = meta.data[i];
          const px = scales.x.getPixelForValue(s[2]);
          ctx.lineWidth = 2;
          ctx.beginPath();
          ctx.moveTo(px, el.y - el.height / 2);
          ctx.lineTo(px, el.y + el.height / 2);
          ctx.stroke();
          outs[di][i].forEach((o: number) => {
            ctx.beginPath();
            ctx.arc(scales.x.getPixelForValue(o), el.y, 1.3, 0, Math.PI * 2);
            ctx.fill();
          });
        });
      });
      ctx.font = `9px ${SANS}`;
      ctx.textAlign = "center";
      ctx.textBaseline = "alphabetic";
      ctx.fillStyle = "#222";
      G_SIG.forEach((t, i) => {
        ctx.fillText(t, scales.x.getPixelForValue(8.55), scales.y.getPixelForValue(i) + 1.5);
      });
      ctx.restore();
    },
  };
}
function gCfg(m: M) {
  return {
    type: "bar",
    data: {
      labels: G_GENES,
      datasets: [
        { data: G_LOW.map((b) => [b[1], b[3]]), backgroundColor: G_ORANGE, borderColor: "#222", borderWidth: 1, borderSkipped: false, categoryPercentage: 0.8, barPercentage: 1.2 },
        { data: G_HIGH.map((b) => [b[1], b[3]]), backgroundColor: G_BLUE, borderColor: "#222", borderWidth: 1, borderSkipped: false, categoryPercentage: 0.8, barPercentage: 1.2 },
      ],
    },
    options: Object.assign(baseOpts(m, {
      x: {
        type: "linear", min: -0.157, max: 8.9, afterBuildTicks: setTicks(G_X_TICKS), afterFit: fitH(m[3]),
        ticks: { minRotation: 60, maxRotation: 60, font: { size: 6 }, color: "#333", padding: 1, autoSkip: false },
        grid: { drawOnChartArea: false, tickLength: 3, tickColor: "#222" }, border: { display: true, color: "#222", width: 1 },
        title: { display: true, text: "Gene expression", font: { size: 7.5 }, color: "#222", padding: 0 },
      },
      y: {
        type: "category", afterFit: fitW(m[0]),
        ticks: { autoSkip: false, font: { size: 7 }, color: "#333", padding: 1.5 },
        grid: { drawOnChartArea: false, tickLength: 3, tickColor: "#222", offset: false }, border: { display: true, color: "#222", width: 1 },
      },
    }), { indexAxis: "y" }),
    plugins: [gBoxPlugin()],
  };
}

// ---------------- I ----------------
function stackCfg(cats: string[], R: number[], NR: number[], m: M) {
  const items: any[] = [];
  R.forEach((r, k) => {
    items.push({ x: k + 1, y: r / 2, text: `${r}%`, size: 14 });
    items.push({ x: k + 1, y: r + NR[k] / 2, text: `${NR[k]}%`, size: 14 });
  });
  return {
    type: "bar",
    data: {
      datasets: [
        { data: R.map((v, i) => ({ x: i + 1, y: v })), backgroundColor: RED, borderColor: "#3a3a3a", borderWidth: 1, borderSkipped: false, categoryPercentage: 1, barPercentage: 0.8 },
        { data: NR.map((v, i) => ({ x: i + 1, y: v })), backgroundColor: TEAL, borderColor: "#3a3a3a", borderWidth: 1, borderSkipped: false, categoryPercentage: 1, barPercentage: 0.8 },
      ],
    },
    options: baseOpts(m, {
      x: {
        type: "linear", min: 0.4, max: 2.6, offset: false, stacked: true, afterBuildTicks: setTicks([1, 2]), afterFit: fitH(m[3]),
        ticks: { callback: (v: any) => cats[Math.round(Number(v)) - 1], font: { size: 7.5 }, color: "#333", padding: 1, maxRotation: 0, autoSkip: false },
        grid: { drawOnChartArea: false, tickLength: 3, tickColor: "#222", offset: false }, border: { display: true, color: "#222", width: 1 },
      },
      y: {
        type: "linear", stacked: true, min: 0, max: 100, afterBuildTicks: setTicks(PCT_TICKS), afterFit: fitW(m[0]),
        ticks: { callback: (v: any) => `${v}%`, font: { size: 6.6 }, color: "#333", padding: 2 },
        grid: { drawOnChartArea: false, tickLength: 3, tickColor: "#222" }, border: { display: true, color: "#222", width: 1 },
        title: { display: true, text: "score", font: { size: 7.5 }, color: "#222", padding: 0 },
      },
    }),
    plugins: [textPlugin("pct", items)],
  };
}

// ---------------- HTML text ----------------
function Txt({ x, y, size, children, align = "center", color = "#000", family = SANS }: any) {
  const tx = align === "center" ? "-50%" : align === "right" ? "-100%" : "0";
  return (
    <div style={{ position: "absolute", left: x, top: y, transform: `translate(${tx},-50%)`, fontSize: size, lineHeight: 1, color, fontFamily: family, whiteSpace: "nowrap" }}>
      {children}
    </div>
  );
}
function Sq({ x, y, w, h, color, border = "none" }: any) {
  return <div style={{ position: "absolute", left: x, top: y, width: w, height: h, background: color, border, boxSizing: "border-box" }} />;
}

export default function App() {
  const letters: [string, number, number][] = [["A", 24, 12.5], ["B", 259, 12], ["C", 483, 10], ["D", 25, 278], ["E", 344.5, 288.5], ["F", 21, 426], ["G", 425, 441.5], ["H", 34.5, 723.5], ["I", 290, 723.5]];
  return (
    <div style={{ position: "absolute", left: 0, top: 0, width: 685, height: 908, overflow: "hidden", background: "#fff", fontFamily: SANS }}>
      <Gsea g={GA} />
      <Gsea g={GB} />
      <Gsea g={GC} />

      <ChartBox L={25} T={301.7} R={166.7} B={401.7} m={[19.8, 4, 3, 14]} build={(m) => violinCfg(V_CYT, m)} />
      <ChartBox L={183} T={302} R={328.3} B={405.3} m={[16.4, 4, 3, 12]} build={(m) => violinCfg(V_GEP, m)} />
      <ChartBox L={363.3} T={300.7} R={511.7} B={405.7} m={[18.4, 4, 3, 12]} build={(m) => violinCfg(V_TCR, m)} />
      <ChartBox L={541} T={303.3} R={683} B={404} m={[18.4, 4, 2, 12]} build={(m) => violinCfg(V_BCR, m)} />

      <ChartBox L={126} T={439} R={367} B={683} m={[124.3, 4, 2, 18]} build={(m) => fCfg(m)} />
      <ChartBox L={467} T={442} R={680} B={684} m={[37, 4, 5, 17.5]} build={(m) => gCfg(m)} />

      <ChartBox L={45.7} T={756.7} R={240} B={887.3} m={[16, 4, 3, 19.6]} build={(m) => violinCfg(V_TIDE, m)} />
      <ChartBox L={336} T={741} R={433.8} B={886.7} m={[35.5, 4, 1, 14]} build={(m) => stackCfg(I1_CATS, I1_R, I1_NR, m)} />
      <ChartBox L={526} T={742.3} R={626} B={888} m={[34.5, 4, 1, 14]} build={(m) => stackCfg(I2_CATS, I2_R, I2_NR, m)} />

      {letters.map(([t, x, y]) => (
        <Txt key={t} x={x} y={y} size={20}>{t}</Txt>
      ))}

      {/* Software legend */}
      <Txt x={377} y={522} size={6.8} align="left" color="#222">Software</Txt>
      {F_SOFTWARE.map((s, i) => (
        <React.Fragment key={s}>
          <Sq x={378} y={528 + i * 10.8} w={10} h={10} color="#f2f2f2" />
          <div style={{ position: "absolute", left: 380, top: 530 + i * 10.8, width: 6, height: 6, borderRadius: 3, background: F_SOFT_COLORS[i] }} />
          <Txt x={391} y={533 + i * 10.8} size={5.5} align="left" color="#333">{s}</Txt>
        </React.Fragment>
      ))}

      {/* Cluster legend */}
      <Txt x={542} y={428} size={7.5} align="left" color="#222">Cluster</Txt>
      <Sq x={572} y={424.5} w={8.5} h={7} color={G_BLUE} border="1px solid #222" />
      <Sq x={575.8} y={424.5} w={1} h={7} color="#111" />
      <Txt x={585} y={428} size={6.5} align="left" color="#333">high</Txt>
      <Sq x={602.5} y={424.5} w={8.5} h={7} color={G_ORANGE} border="1px solid #222" />
      <Sq x={606.3} y={424.5} w={1} h={7} color="#111" />
      <Txt x={615} y={428} size={6.5} align="left" color="#333">low</Txt>

      {/* I titles and legends */}
      <Txt x={382} y={715} size={15} color="#111">IMvigor210</Txt>
      <Txt x={569} y={719} size={15.5} color="#111">Melanoma-PRJEB23709-PD1</Txt>
      <Sq x={437} y={798.3} w={7.5} h={7.5} color={TEAL} />
      <Sq x={437} y={806.7} w={7.5} h={7.5} color={RED} />
      <Txt x={447.5} y={802} size={5.5} align="left" color="#333">NR</Txt>
      <Txt x={447.5} y={810.5} size={5.5} align="left" color="#333">R</Txt>
      <Sq x={629} y={799} w={7.5} h={7.5} color={TEAL} />
      <Sq x={629} y={807.4} w={7.5} h={7.5} color={RED} />
      <Txt x={639.5} y={803} size={5.5} align="left" color="#333">NR</Txt>
      <Txt x={639.5} y={811.3} size={5.5} align="left" color="#333">R</Txt>
    </div>
  );
}
